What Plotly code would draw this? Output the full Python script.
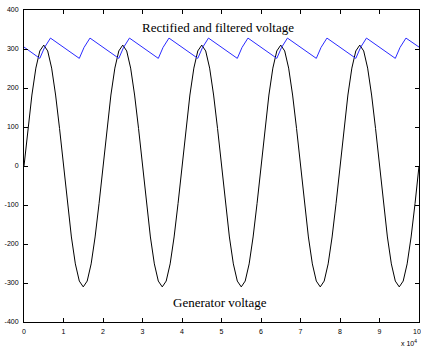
import plotly.graph_objects as go

# Generator voltage, sampled every 0.1 (x 10^-4 units)
gen_x = [round(i * 0.1, 1) for i in range(101)]
gen_y = [
    0, 96, 182, 251, 295, 310, 295, 251, 182, 96,
    0, -96, -182, -251, -295, -310, -295, -251, -182, -96,
    0, 96, 182, 251, 295, 310, 295, 251, 182, 96,
    0, -96, -182, -251, -295, -310, -295, -251, -182, -96,
    0, 96, 182, 251, 295, 310, 295, 251, 182, 96,
    0, -96, -182, -251, -295, -310, -295, -251, -182, -96,
    0, 96, 182, 251, 295, 310, 295, 251, 182, 96,
    0, -96, -182, -251, -295, -310, -295, -251, -182, -96,
    0, 96, 182, 251, 295, 310, 295, 251, 182, 96,
    0, -96, -182, -251, -295, -310, -295, -251, -182, -96,
    0,
]

# Rectified and filtered voltage (ripple corners)
rect_x = [0,
          0.4, 0.52, 0.67,
          1.4, 1.52, 1.67,
          2.4, 2.52, 2.67,
          3.4, 3.52, 3.67,
          4.4, 4.52, 4.67,
          5.4, 5.52, 5.67,
          6.4, 6.52, 6.67,
          7.4, 7.52, 7.67,
          8.4, 8.52, 8.67,
          9.4, 9.52, 9.67,
          10]
rect_y = [305,
          276, 304, 328,
          276, 304, 328,
          276, 304, 328,
          276, 304, 328,
          276, 304, 328,
          276, 304, 328,
          276, 304, 328,
          276, 304, 328,
          276, 304, 328,
          276, 304, 328,
          305]

x_ticks = [0, 1, 2, 3, 4, 5, 6, 7, 8, 9, 10]
x_labels = ["0", "1", "2", "3", "4", "5", "6", "7", "8", "9", ""]
y_ticks = [-400, -300, -200, -100, 0, 100, 200, 300, 400]

fig = go.Figure()
fig.add_trace(go.Scatter(x=gen_x, y=gen_y, mode="lines",
                         line=dict(color="black", width=1)))
fig.add_trace(go.Scatter(x=rect_x, y=rect_y, mode="lines",
                         line=dict(color="#2a2aff", width=1)))

tick_font = dict(family="Liberation Sans", size=7, color="black")
axis_common = dict(showgrid=False, zeroline=False, showline=True, linecolor="black",
                   linewidth=1, mirror="ticks", ticks="inside", ticklen=4,
                   tickcolor="black", tickfont=tick_font)

fig.update_xaxes(range=[0, 10], tickvals=x_ticks, ticktext=x_labels,
                 ticklabelstandoff=3, **axis_common)
fig.update_yaxes(range=[-400, 400], tickvals=y_ticks, ticktext=[str(v) for v in y_ticks],
                 ticklabelstandoff=3, **axis_common)

fig.add_annotation(x=4.9, y=355, text="Rectified and filtered voltage", showarrow=False,
                   font=dict(family="Liberation Serif", size=13, color="black"))
fig.add_annotation(x=4.95, y=-350, text="Generator voltage", showarrow=False,
                   font=dict(family="Liberation Serif", size=13, color="black"))
# last x tick label, kept inside the page edge
fig.add_annotation(x=10, y=0, xref="x", yref="paper", xanchor="center", yanchor="top",
                   xshift=-2, yshift=-4, text=str(x_ticks[-1]), showarrow=False,
                   font=tick_font)
fig.add_annotation(x=1, xref="paper", xanchor="right", y=-0.086, yref="paper", yanchor="bottom",
                   text="x 10<sup>4</sup>", showarrow=False, font=tick_font)

fig.update_layout(width=421, height=351, margin=dict(l=24, r=2, t=10, b=29),
                  plot_bgcolor="white", paper_bgcolor="white", showlegend=False)

fig.write_html("out.html")
